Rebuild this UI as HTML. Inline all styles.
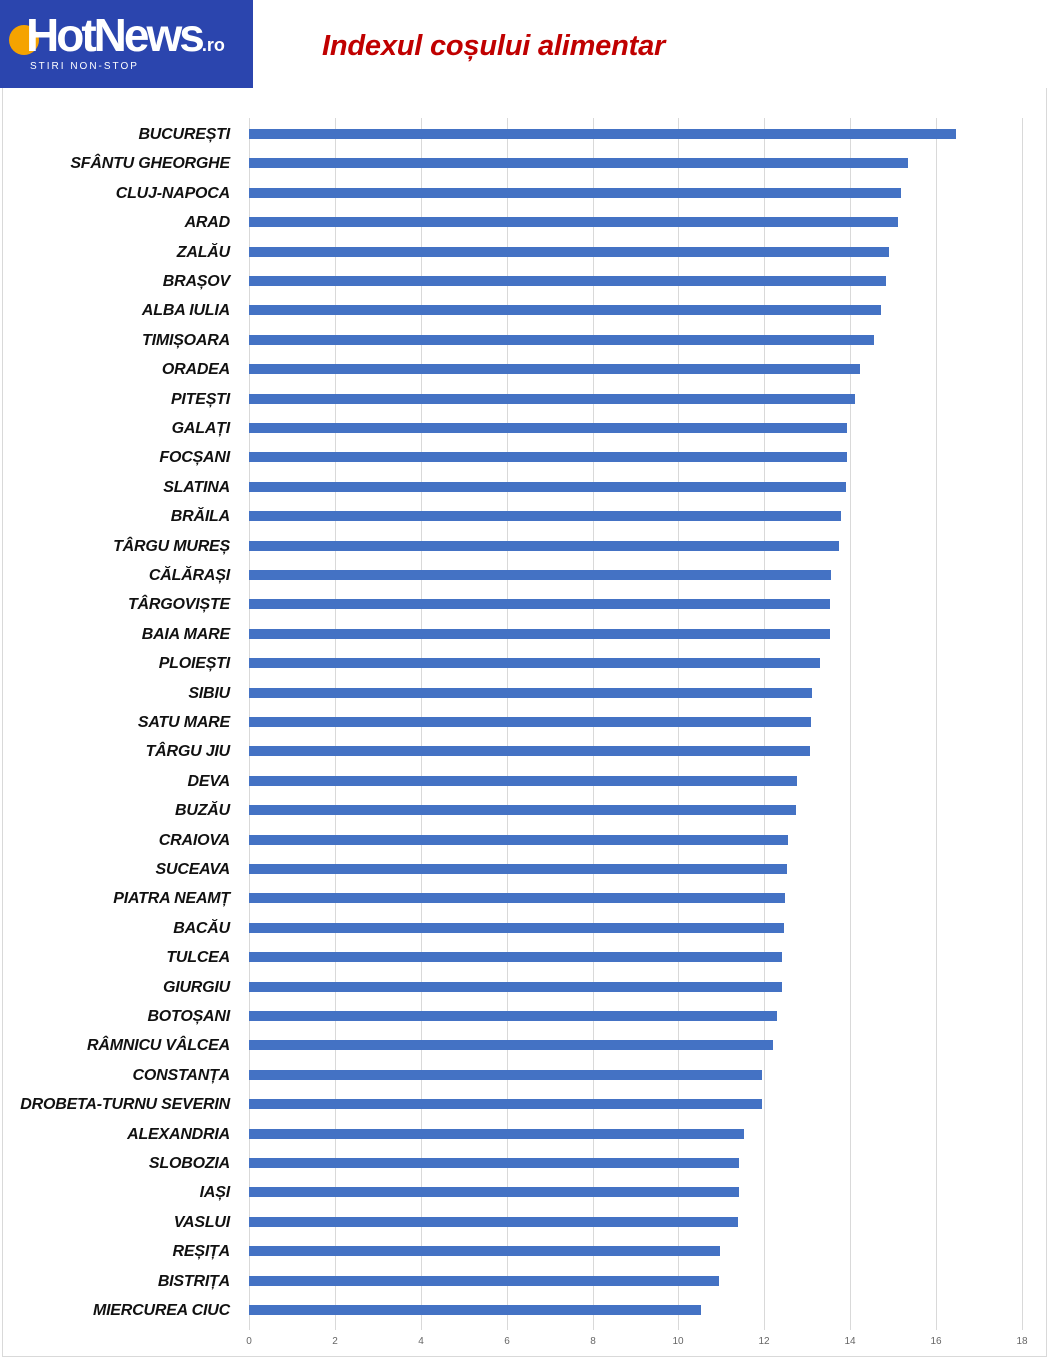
<!DOCTYPE html>
<html><head><meta charset="utf-8"><style>
html,body{margin:0;padding:0;background:#fff;}
body{width:1063px;height:1371px;position:relative;overflow:hidden;font-family:"Liberation Sans",sans-serif;}
.logo{position:absolute;left:0;top:0;width:253px;height:88px;background:#2b45ae;overflow:hidden;}
.t{position:absolute;white-space:nowrap;}
.lab{position:absolute;right:833px;font-weight:bold;font-style:italic;font-size:16px;color:#111;white-space:nowrap;letter-spacing:-0.2px;}
.bar{position:absolute;left:249px;height:10px;background:#4472c4;}
.grid{position:absolute;top:118px;height:1212px;width:1px;background:#d9d9d9;}
.tick{position:absolute;top:1336px;font-size:10px;color:#666;width:30px;text-align:center;}
</style></head><body>
<div style="position:absolute;left:2px;top:88px;width:1043px;height:1268px;border:1px solid #d9d9d9;border-top:none;"></div>
<div class="logo">
<svg width="40" height="50" style="position:absolute;left:4px;top:14px"><circle cx="20" cy="26" r="15" fill="#f5a300"/></svg>
<div class="t" style="left:26px;top:8px;font-size:46px;font-weight:bold;color:#fff;letter-spacing:-3px;">HotNews<span style="font-size:18px;letter-spacing:0">.ro</span></div>
<div class="t" style="left:30px;top:61px;font-size:10px;color:#fff;letter-spacing:2px;">STIRI NON-STOP</div>
</div>
<div class="t" style="left:322px;top:30px;font-size:29px;font-weight:bold;font-style:italic;color:#c00000;letter-spacing:-0.2px;">Indexul coșului alimentar</div>
<div id="c"></div>
<script>
var names=["BUCUREȘTI","SFÂNTU GHEORGHE","CLUJ-NAPOCA","ARAD","ZALĂU","BRAȘOV","ALBA IULIA","TIMIȘOARA","ORADEA","PITEȘTI","GALAȚI","FOCȘANI","SLATINA","BRĂILA","TÂRGU MUREȘ","CĂLĂRAȘI","TÂRGOVIȘTE","BAIA MARE","PLOIEȘTI","SIBIU","SATU MARE","TÂRGU JIU","DEVA","BUZĂU","CRAIOVA","SUCEAVA","PIATRA NEAMȚ","BACĂU","TULCEA","GIURGIU","BOTOȘANI","RÂMNICU VÂLCEA","CONSTANȚA","DROBETA-TURNU SEVERIN","ALEXANDRIA","SLOBOZIA","IAȘI","VASLUI","REȘIȚA","BISTRIȚA","MIERCUREA CIUC"];
var ends=[956,908,901,898,889,886,881,874,860,855,847,847,846,841,839,831,830,830,820,812,811,810,797,796,788,787,785,784,782,782,777,773,762,762,744,739,739,738,720,719,701];
var h="";
for(var i=0;i<=9;i++){var x=249+i*773/9;h+='<div class="grid" style="left:'+Math.round(x)+'px"></div><div class="tick" style="left:'+Math.round(x-15)+'px">'+(i*2)+'</div>';}
for(var i=0;i<41;i++){var y=134+i*29.4;h+='<div class="bar" style="top:'+Math.round(y-5)+'px;width:'+(ends[i]-249)+'px"></div><div class="lab" style="top:'+Math.round(y-8)+'px">'+names[i]+'</div>';}
document.getElementById("c").innerHTML=h;
</script>
</body></html>
